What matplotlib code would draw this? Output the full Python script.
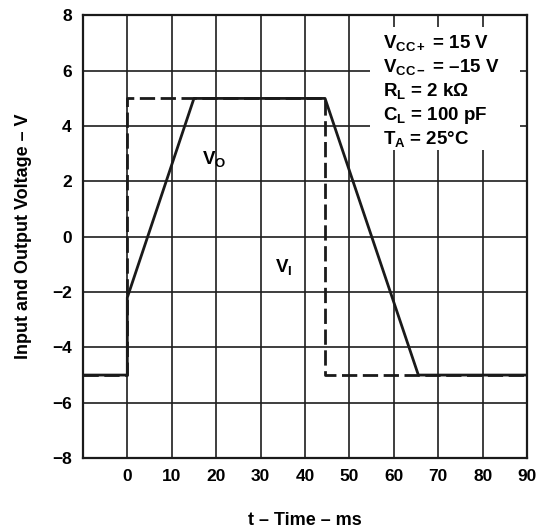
import matplotlib
matplotlib.use("Agg")
import matplotlib.pyplot as plt
from matplotlib.patches import Rectangle

plt.rcParams['font.family'] = ['Liberation Sans', 'DejaVu Sans']
plt.rcParams['font.weight'] = 'bold'
plt.rcParams['mathtext.fontset'] = 'custom'
plt.rcParams['mathtext.rm'] = 'Liberation Sans:bold'
plt.rcParams['mathtext.it'] = 'Liberation Sans:bold'
plt.rcParams['mathtext.bf'] = 'Liberation Sans:bold'
plt.rcParams['mathtext.default'] = 'rm'

# output voltage (solid) and input voltage (dashed), time in ms
vo_t = [-10, 0, 0, 15, 44.5, 65.5, 90]
vo_v = [-5, -5, -2.2, 5, 5, -5, -5]
vi_t = [-10, 0, 0, 44.5, 44.5, 90]
vi_v = [-5, -5, 5, 5, -5, -5]

xticks = [0, 10, 20, 30, 40, 50, 60, 70, 80, 90]
yticks = [-8, -6, -4, -2, 0, 2, 4, 6, 8]

conditions = [r"V$_{\mathrm{CC+}}$ = 15 V",
              r"V$_{\mathrm{CC-}}$ = –15 V",
              r"R$_{\mathrm{L}}$ = 2 kΩ",
              r"C$_{\mathrm{L}}$ = 100 pF",
              r"T$_{\mathrm{A}}$ = 25°C"]

fig = plt.figure(figsize=(5.38, 5.32), dpi=100)
ax = fig.add_axes([0.154, 0.139, 0.826, 0.832])

ax.plot(vo_t, vo_v, color='#1a1a1a', lw=2.0, zorder=3)
ax.plot(vi_t, vi_v, color='#1a1a1a', lw=2.0, dashes=(5.5, 2.0), zorder=4)

ax.set_xlim(-10, 90)
ax.set_ylim(-8, 8)
ax.set_xticks([-10] + xticks)
ax.set_xticklabels([''] + [str(t) for t in xticks])
ax.set_yticks(yticks)
ax.set_yticklabels([str(t).replace('-', '−') for t in yticks])
ax.tick_params(length=0, pad=8, labelsize=12.5)
ax.grid(True, color='#1e1e1e', lw=1.2, zorder=1)
ax.set_axisbelow(True)
for s in ax.spines.values():
    s.set_linewidth(1.6)
    s.set_color('#1a1a1a')

ax.set_xlabel("t – Time – ms", fontsize=13, fontweight='bold', labelpad=20)
ax.set_ylabel("Input and Output Voltage – V", fontsize=13, fontweight='bold', labelpad=14)

# white box behind the test conditions
ax.add_patch(Rectangle((0.646, 0.696), 0.338, 0.278, transform=ax.transAxes,
                       facecolor='white', edgecolor='none', zorder=2))
base = [0.9266, 0.8723, 0.818, 0.7638, 0.7096]
for txt, y in zip(conditions, base):
    ax.text(0.676, y, txt, transform=ax.transAxes, fontsize=13.5,
            fontweight='bold', va='baseline', ha='left', zorder=5)

ax.text(16.9, 2.64, r"V$_{\mathrm{O}}$", fontsize=13.5, fontweight='bold',
        va='baseline', ha='left', zorder=5)
ax.text(33.3, -1.27, r"V$_{\mathrm{I}}$", fontsize=13.5, fontweight='bold',
        va='baseline', ha='left', zorder=5)

fig.savefig("out.png", dpi=100)
